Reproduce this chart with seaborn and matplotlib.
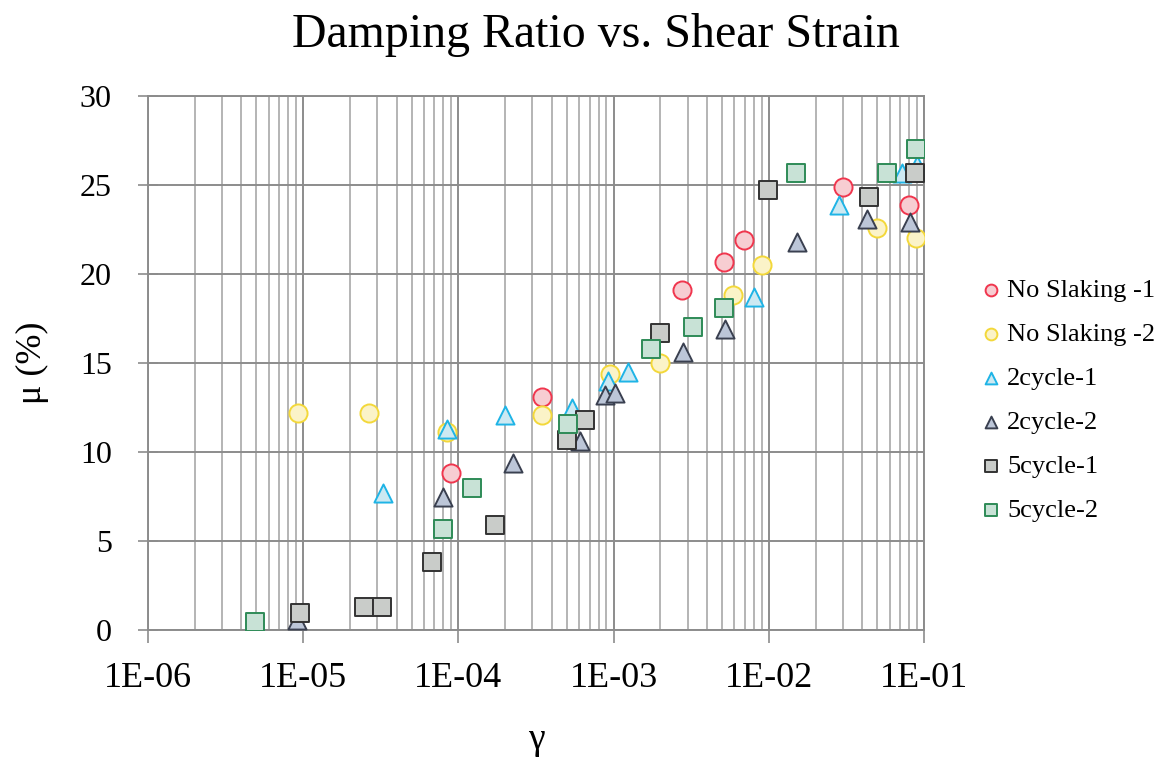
import numpy as np
import pandas as pd
import matplotlib
matplotlib.use("Agg")
import matplotlib.pyplot as plt
from matplotlib.ticker import LogLocator, FixedLocator, NullFormatter
import seaborn as sns

# ---- data ----
ns1_x = [9.0e-5, 3.46e-4, 2.76e-3, 5.14e-3, 6.9e-3, 3.0e-2, 8.0e-2]
ns1_y = [8.8, 13.1, 19.1, 20.7, 21.9, 24.9, 23.9]

ns2_x = [9.3e-6, 2.65e-5, 8.5e-5, 3.46e-4, 9.5e-4, 1.99e-3, 5.87e-3, 9.0e-3, 4.97e-2, 8.9e-2]
ns2_y = [12.2, 12.2, 11.1, 12.1, 14.4, 15.0, 18.8, 20.5, 22.6, 22.0]

c21_x = [3.27e-5, 8.45e-5, 2.0e-4, 5.4e-4, 9.2e-4, 1.24e-3, 8.0e-3, 2.83e-2, 7.2e-2, 9.0e-2]
c21_y = [7.7, 11.3, 12.1, 12.5, 14.0, 14.5, 18.7, 23.9, 25.7, 26.1]

c22_x = [9.1e-6, 7.96e-5, 2.25e-4, 6.07e-4, 8.8e-4, 1.02e-3, 2.8e-3, 5.2e-3, 1.52e-2, 4.3e-2, 8.1e-2]
c22_y = [0.55, 7.5, 9.4, 10.6, 13.2, 13.3, 15.6, 16.9, 21.8, 23.1, 22.9]

c51_x = [9.5e-6, 2.47e-5, 3.22e-5, 6.76e-5, 1.72e-4, 5.0e-4, 6.55e-4, 1.99e-3, 9.9e-3, 4.42e-2, 8.7e-2]
c51_y = [0.95, 1.3, 1.3, 3.8, 5.9, 10.7, 11.8, 16.7, 24.7, 24.3, 25.7]

c52_x = [4.9e-6, 7.96e-5, 1.22e-4, 5.1e-4, 1.74e-3, 3.25e-3, 5.14e-3, 1.50e-2, 5.78e-2, 8.9e-2]
c52_y = [0.45, 5.7, 8.0, 11.6, 15.8, 17.0, 18.1, 25.7, 25.7, 27.0]

series_names = ["No Slaking -1", "No Slaking -2", "2cycle-1", "2cycle-2", "5cycle-1", "5cycle-2"]
x_ticklabels = ["1E-06", "1E-05", "1E-04", "1E-03", "1E-02", "1E-01"]
y_ticks = [0, 5, 10, 15, 20, 25, 30]

# ---- styling ----
sns.set_theme(style="white")
plt.rcParams["font.family"] = ["Liberation Serif", "DejaVu Serif"]
plt.rcParams["text.color"] = "black"
plt.rcParams["axes.labelcolor"] = "black"
plt.rcParams["xtick.color"] = "black"
plt.rcParams["ytick.color"] = "black"

styles = [
    dict(marker="o", face="#F7CDD2", edge="#F0364E"),
    dict(marker="o", face="#FBF3C8", edge="#F3D83A"),
    dict(marker="^", face="#CDE9F2", edge="#1FB4E6"),
    dict(marker="^", face="#BCC6D8", edge="#3A4050"),
    dict(marker="s", face="#C9CCC9", edge="#333333"),
    dict(marker="s", face="#C8E2D6", edge="#2E8B57"),
]
data = [(ns1_x, ns1_y), (ns2_x, ns2_y), (c21_x, c21_y), (c22_x, c22_y), (c51_x, c51_y), (c52_x, c52_y)]

fig = plt.figure(figsize=(11.64, 7.59), dpi=100)
ax = fig.add_axes([148 / 1164, 1 - 630 / 759, (924 - 148) / 1164, (630 - 96) / 759])

for name, (xs, ys), st in zip(series_names, data, styles):
    df = pd.DataFrame({"x": xs, "y": ys})
    sns.scatterplot(data=df, x="x", y="y", ax=ax, marker=st["marker"], s=170,
                    color=st["face"], edgecolor=st["edge"], linewidth=1.4,
                    label=name, zorder=3, legend=True)

ax.set_xscale("log")
ax.set_xlim(1e-6, 1e-1)
ax.set_ylim(0, 30)
ax.xaxis.set_major_locator(FixedLocator([1e-6, 1e-5, 1e-4, 1e-3, 1e-2, 1e-1]))
ax.set_xticklabels(x_ticklabels)
ax.xaxis.set_minor_locator(LogLocator(base=10, subs=np.arange(2, 10)))
ax.xaxis.set_minor_formatter(NullFormatter())
ax.set_yticks(y_ticks)
ax.set_yticklabels([str(v) for v in y_ticks])

ax.grid(True, which="major", axis="both", color="#8C8C8C", linewidth=1.4)
ax.grid(True, which="minor", axis="x", color="#A8A8A8", linewidth=1.2)
ax.set_axisbelow(True)

for sp in ax.spines.values():
    sp.set_color("#8C8C8C")
    sp.set_linewidth(1.4)

ax.tick_params(axis="x", which="major", direction="out", length=9, width=1.2,
               color="#8C8C8C", labelcolor="black", labelsize=26, pad=14, bottom=True)
ax.tick_params(axis="x", which="minor", length=0)
ax.tick_params(axis="y", which="major", direction="inout", length=14, width=1.2,
               color="#8C8C8C", labelcolor="black", labelsize=23, pad=19, left=True)

ax.set_xlabel("γ", fontsize=27, labelpad=20)
ax.set_ylabel("μ (%)", fontsize=26, labelpad=22)
fig.text(596 / 1164, 1 - 47 / 759, "Damping Ratio vs. Shear Strain",
         ha="center", va="baseline", fontsize=34.5, color="black")

h, l = ax.get_legend_handles_labels()
if ax.legend_:
    ax.legend_.remove()
fig.legend(h, l, loc="center left", bbox_to_anchor=(978 / 1164, 1 - 400 / 759),
           frameon=False, fontsize=19, handletextpad=0.1, handlelength=1.0,
           labelspacing=0.78, markerscale=0.65, borderaxespad=0, borderpad=0)

fig.savefig("out.png", dpi=100)
